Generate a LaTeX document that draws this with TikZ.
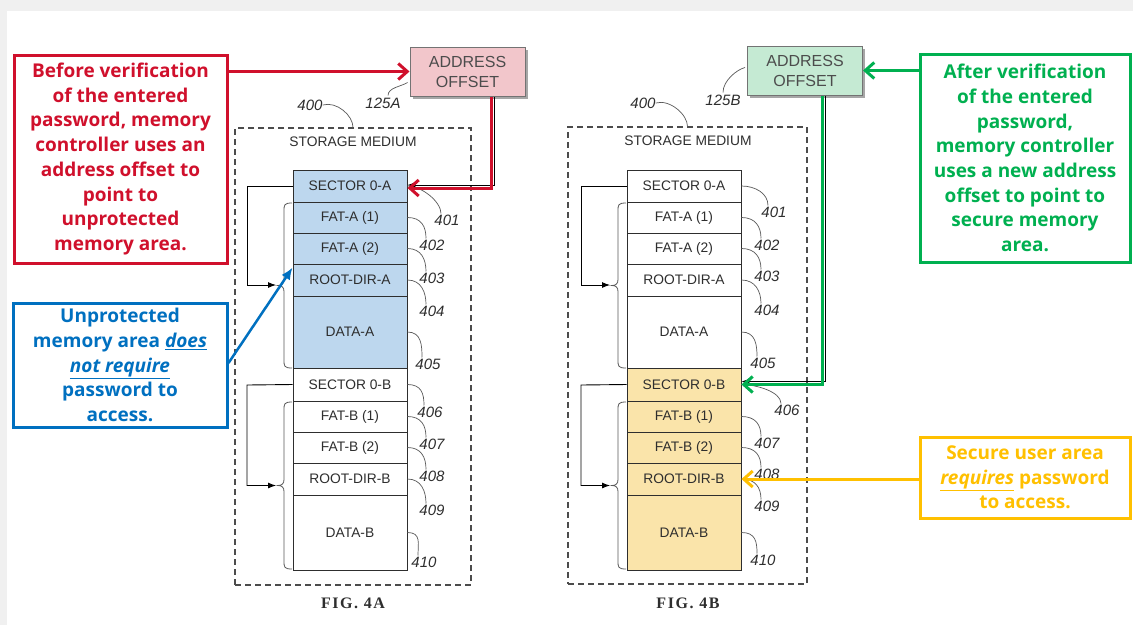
\documentclass[tikz,border=0pt]{standalone}
\usepackage{fontspec}
\setmainfont{Liberation Sans}
\newfontfamily\callfont{Open Sans}
\newfontfamily\figfont{Liberation Serif}[LetterSpace=10]
\usetikzlibrary{arrows.meta,calc}
\definecolor{cred}{HTML}{D0102C}
\definecolor{cblue}{HTML}{0070C0}
\definecolor{cgreen}{HTML}{00B050}
\definecolor{cyellow}{HTML}{FFC000}
\definecolor{bluefill}{HTML}{BDD7EE}
\definecolor{yelfill}{HTML}{FAE4AA}
\definecolor{pinkfill}{HTML}{F2C6CB}
\definecolor{greenfill}{HTML}{C5EAD3}
\definecolor{inkc}{HTML}{2E2E2E}
\newcommand\mybrace[3]{%
  \pgfmathsetmacro\bmid{(#2+#3)/2}%
  \draw[brc] (#1,#2) .. controls (#1-8,#2) and (#1-8,#2+2) .. (#1-8,#2+8)
    -- (#1-8,\bmid-6) .. controls (#1-8,\bmid-2) and (#1-10,\bmid) .. (#1-14,\bmid)
    .. controls (#1-10,\bmid) and (#1-8,\bmid+2) .. (#1-8,\bmid+6)
    -- (#1-8,#3-8) .. controls (#1-8,#3-2) and (#1-8,#3) .. (#1,#3);}
\begin{document}
\begin{tikzpicture}[x=1pt,y=-1pt,
  row/.style={draw=inkc, line width=0.9pt, minimum width=114pt, inner sep=0pt,
    font=\fontsize{13.8}{15}\selectfont, text=inkc},
  lab/.style={font=\fontsize{15}{17}\selectfont\itshape, text=inkc, inner sep=0pt},
  lead/.style={draw=black!65, line width=0.7pt},
  brc/.style={draw=black!65, line width=0.8pt},
  callout/.style={line width=3pt, font=\callfont\bfseries\fontsize{19}{24.7}\selectfont,
    align=center, inner sep=0pt},
  addr/.style={draw=black!55, line width=1pt, minimum width=115pt, minimum height=49pt,
    font=\fontsize{16}{20}\selectfont, text=black!70, align=center, inner sep=0pt},
  stor/.style={draw=black!70, line width=1.1pt, dash pattern=on 6pt off 4pt},
  caption/.style={font=\fontsize{13.8}{15}\selectfont, text=inkc, inner sep=0pt},
  figcap/.style={font=\figfont\bfseries\fontsize{16}{18}\selectfont, text=inkc, inner sep=0pt},
  bigarrow/.style={line width=3pt, -{Straight Barb[length=9pt,width=16pt]}},
  blk/.style={draw=black, line width=0.9pt, -{Latex[length=8pt,width=6pt]}}
]
\useasboundingbox (0,0) rectangle (1133,625);
\fill[black!6] (0,0) rectangle (1133,625);
\fill[white] (7,11) rectangle (1133,625);

% ---------- storage boxes ----------
\node[stor, minimum width=236pt, minimum height=457pt] (boxA) at (353,356.5) {};
\node[stor, minimum width=239pt, minimum height=457pt] (boxB) at (687.5,355.5) {};
\node[caption] (smA) at (353,142) {STORAGE MEDIUM};
\node[caption] (smB) at (688,141) {STORAGE MEDIUM};
\node[figcap] (figA) at (353,603) {FIG. 4A};
\node[figcap] (figB) at (688,603) {FIG. 4B};

% ---------- stack A ----------
\node[row, fill=bluefill, minimum height=32pt] (A1) at (350,186) {SECTOR 0-A};
\node[row, fill=bluefill, minimum height=31pt] (A2) at (350,217.5) {FAT-A (1)};
\node[row, fill=bluefill, minimum height=31pt] (A3) at (350,248.5) {FAT-A (2)};
\node[row, fill=bluefill, minimum height=32pt] (A4) at (350,280) {ROOT-DIR-A};
\node[row, fill=bluefill, minimum height=72pt] (A5) at (350,332) {DATA-A};
\node[row, fill=white, minimum height=33pt] (A6) at (350,384.5) {SECTOR 0-B};
\node[row, fill=white, minimum height=31pt] (A7) at (350,416.5) {FAT-B (1)};
\node[row, fill=white, minimum height=31pt] (A8) at (350,447.5) {FAT-B (2)};
\node[row, fill=white, minimum height=32pt] (A9) at (350,479) {ROOT-DIR-B};
\node[row, fill=white, minimum height=75pt] (A10) at (350,532.5) {DATA-B};

% ---------- stack B ----------
\node[row, fill=white, minimum height=32pt] (B1) at (684,186) {SECTOR 0-A};
\node[row, fill=white, minimum height=31pt] (B2) at (684,217.5) {FAT-A (1)};
\node[row, fill=white, minimum height=31pt] (B3) at (684,248.5) {FAT-A (2)};
\node[row, fill=white, minimum height=32pt] (B4) at (684,280) {ROOT-DIR-A};
\node[row, fill=white, minimum height=72pt] (B5) at (684,332) {DATA-A};
\node[row, fill=yelfill, minimum height=33pt] (B6) at (684,384.5) {SECTOR 0-B};
\node[row, fill=yelfill, minimum height=31pt] (B7) at (684,416.5) {FAT-B (1)};
\node[row, fill=yelfill, minimum height=31pt] (B8) at (684,447.5) {FAT-B (2)};
\node[row, fill=yelfill, minimum height=32pt] (B9) at (684,479) {ROOT-DIR-B};
\node[row, fill=yelfill, minimum height=75pt] (B10) at (684,532.5) {DATA-B};

% ---------- reference numbers ----------
\foreach \i/\lx/\ly/\t in {1/447/220/401, 2/432/245/402, 3/432/278/403, 4/432/311/404,
  5/428/364/405, 6/430/412/406, 7/432/444/407, 8/432/476/408, 9/432/510/409, 10/424/562/410}{
  \node[lab] (LA\i) at (\lx,\ly) {\t};
  \draw[lead] (A\i.east) .. controls +(14,0) and +(0,-12) .. ($(LA\i.north)+(-6,-1)$);
}
\foreach \i/\lx/\ly/\t in {1/774/212/401, 2/767/245/402, 3/767/276/403, 4/767/310/404,
  5/763/363/405, 6/787/410/406, 7/767/443/407, 8/767/474/408, 9/767/506/409, 10/763/560/410}{
  \node[lab] (LB\i) at (\lx,\ly) {\t};
  \draw[lead] (B\i.east) .. controls +(14,0) and +(0,-12) .. ($(LB\i.north)+(-6,-1)$);
}

% ---------- brackets ----------
\coordinate (kA1) at (247,186);
\coordinate (tA1) at (276,285);
\draw[blk] (A1.west) -- (kA1) |- (tA1);
\mybrace{292}{203}{368}
\coordinate (kA2) at (247,385);
\coordinate (tA2) at (276,485.5);
\draw[blk] (A6.west) -- (kA2) |- (tA2);
\mybrace{292}{402}{569}
\coordinate (kB1) at (581,186);
\coordinate (tB1) at (610,285);
\draw[blk] (B1.west) -- (kB1) |- (tB1);
\mybrace{626}{203}{368}
\coordinate (kB2) at (581,385);
\coordinate (tB2) at (610,485.5);
\draw[blk] (B6.west) -- (kB2) |- (tB2);
\mybrace{626}{402}{569}

% ---------- address offset boxes ----------
\fill[black!35] (412.5,49.5) rectangle (527.5,98.5);
\node[addr, fill=pinkfill] (addrA) at (467.5,71.5) {ADDRESS\\OFFSET};
\fill[black!35] (749.5,48.5) rectangle (864.5,97.5);
\node[addr, fill=greenfill] (addrB) at (805,70.5) {ADDRESS\\OFFSET};

\node[lab] (n400A) at (310,105) {400};
\node[lab] (n125A) at (383,103) {125A};
\node[lab] (n400B) at (643,103) {400};
\node[lab] (n125B) at (723,100) {125B};
\draw[lead] (n400A.east) .. controls +(14,-4) and +(0,-12) .. (boxA.north);
\draw[lead] (n400B.east) .. controls +(14,-4) and +(0,-12) .. (boxB.north);
\draw[lead] ($(n125A.north)+(5,-2)$) .. controls +(0,-8) and +(-6,4) .. ($(addrA.south west)+(-2,-14)$);
\draw[lead] ($(n125B.north)+(0,-2)$) .. controls +(0,-12) and +(-8,2) .. ($(addrB.west)+(-2,-3)$);

% ---------- callouts ----------
\node[callout, draw=cred, text=cred, minimum width=213pt, minimum height=208pt] (redbox) at (120.5,159)
  {Before verification\\of the entered\\password, memory\\controller uses an\\address offset to\\point to\\unprotected\\memory area.};
\node[callout, draw=cblue, text=cblue, minimum width=214pt, minimum height=124pt] (bluebox) at (120,365)
  {Unprotected\\memory area \underline{\textit{does}}\\\underline{\textit{not require}}\\password to\\access.};
\node[callout, draw=cgreen, text=cgreen, minimum width=210pt, minimum height=208pt] (greenbox) at (1025,158)
  {After verification\\of the entered\\password,\\memory controller\\uses a new address\\offset to point to\\secure memory\\area.};
\node[callout, draw=cyellow, text=cyellow, minimum width=210pt, minimum height=81pt] (yelbox) at (1025,477.5)
  {Secure user area\\\underline{\textit{requires}} password\\to access.};

% ---------- connectors ----------
\draw[blk] ($(addrA.south)+(27,0)$) |- ($(A1.east)+(0,-1)$);
\draw[blk] ($(addrB.south)+(20,0)$) |- ($(B6.east)+(0,-3)$);
\draw[bigarrow, cred] (redbox.east |- addrA.west) -- (addrA.west);
\draw[bigarrow, cred] ($(addrA.south)+(23.5,0)$) |- ($(A1.east)+(0,2)$);
\draw[bigarrow, cgreen] (greenbox.west |- addrB.east) -- (addrB.east);
\draw[bigarrow, cgreen] ($(addrB.south)+(17,0)$) |- (B6.east);
\draw[bigarrow, cyellow] (B9.east -| yelbox.west) -- (B9.east);
\draw[line width=2.5pt, cblue, -{Latex[length=12pt,width=10pt]}] ($(bluebox.east)+(0,-2)$) -- ($(A4.north west)+(0,4)$);
\end{tikzpicture}
\end{document}
